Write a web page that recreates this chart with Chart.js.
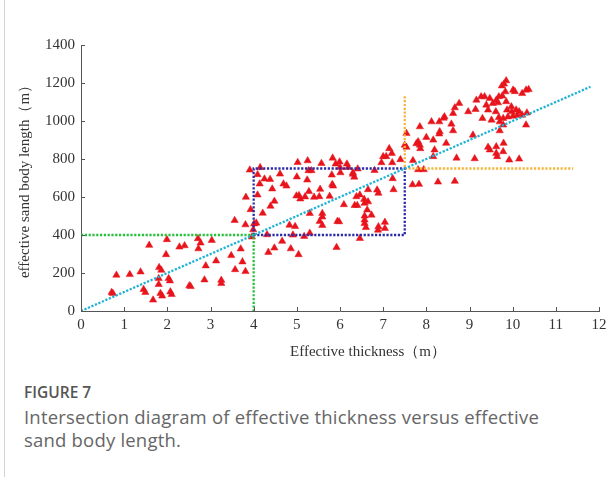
<!DOCTYPE html>
<html>
<head>
<meta charset="utf-8">
<script src="https://cdn.jsdelivr.net/npm/chart.js@4/dist/chart.umd.min.js"></script>
<style>
  html, body { margin: 0; padding: 0; background: #fff; }
  body { width: 612px; height: 477px; position: relative; overflow: hidden; }
  #frame { position: absolute; left: 4px; top: 0; width: 1px; height: 477px; background: #d4d4d4; }
  #plot { position: absolute; left: 0; top: 0; width: 612px; height: 345px; }
  #xtitle { position: absolute; left: 368px; top: 342px; transform: translateX(-50%);
            font: 15px "Liberation Serif", serif; color: #333; white-space: nowrap; }
  #fig { position: absolute; left: 24px; top: 381px; font: 600 15.5px "Open Sans", sans-serif; color: #555; }
  #cap { position: absolute; left: 24px; top: 405px; width: 525px; font: 18.5px "Open Sans", sans-serif;
         letter-spacing: 0.2px; color: #666; line-height: 23px; }
</style>
</head>
<body>
<div id="frame"></div>
<div id="plot"><canvas id="c" width="612" height="345"></canvas></div>
<div id="xtitle">Effective thickness（m）</div>
<div id="fig">FIGURE 7</div>
<div id="cap">Intersection diagram of effective thickness versus effective sand body length.</div>
<script>
// Measured wells: effective thickness (m) and effective sand body length (m)
const thickness = [
  0.71,0.74,0.82,1.13,1.38,1.45,1.49,1.58,1.67,1.81,1.86,1.80,1.80,1.84,1.88,1.99,1.97,2.03,2.06,2.07,
  2.10,2.28,2.40,2.51,2.54,2.71,2.77,2.72,2.86,2.89,3.03,3.13,3.25,3.25,3.48,3.56,3.57,3.70,3.74,3.81,
  3.81,3.82,3.91,3.93,3.96,3.99,4.01,4.06,4.09,4.09,4.15,4.14,4.21,4.25,4.31,4.34,4.39,4.43,4.48,4.48,
  4.38,4.61,4.66,4.69,4.76,4.83,4.86,4.91,4.96,4.99,5.00,5.02,5.04,5.05,5.08,5.19,5.17,5.25,5.27,5.30,
  5.30,5.34,5.24,5.28,5.40,
  9.85,9.80,9.75,10.01,10.05,10.22,10.31,10.37,9.83,9.68,9.76,9.62,9.47,9.54,9.27,9.35,9.16,8.97,9.14,9.39,
  9.43,9.61,9.66,9.85,9.87,9.97,9.98,10.08,10.15,10.22,10.33,10.11,10.01,9.89,9.78,9.68,9.51,9.30,9.70,9.78,
  9.70,10.31,9.08,9.43,9.47,9.62,9.79,9.62,9.64,9.78,9.92,10.15,9.12,8.70,8.66,8.76,8.62,8.42,8.40,8.30,
  8.12,8.58,8.31,8.30,8.62,8.46,8.16,8.19,8.00,7.85,7.81,7.85,7.86,7.77,8.16,7.54,7.50,7.54,7.69,7.81,
  7.94,7.68,7.83,8.27,8.66,7.14,7.20,7.00,7.07,7.40,7.22,7.24,6.86,6.89,6.65,6.73,6.57,6.57,6.60,7.04,
  6.89,6.46,5.92,6.34,6.40,6.56,6.09,5.94,5.98,5.59,5.59,5.52,5.76,5.84,5.82,5.81,5.83,6.01,6.19,6.00,
  6.30,6.30,6.41,6.80,5.57,5.53,5.59,5.54,
  5.90,6.16,5.99,6.96,7.21,6.33,6.65,6.57,6.63,6.38,6.46,6.57,7.04,6.88
];
const sandLength = [
  98,92,189,192,206,114,98,346,58,229,215,171,140,93,79,376,297,171,159,101,
  87,337,344,133,129,381,358,328,164,238,372,264,162,145,292,477,218,327,259,208,
  454,599,742,534,390,428,459,463,718,611,755,669,515,695,402,309,552,643,578,332,
  693,721,367,669,658,452,328,400,445,606,706,782,297,608,590,601,393,791,739,514,
  410,739,690,629,599,
  1212,1195,1185,1163,1155,1145,1163,1166,1154,1128,1132,1110,1119,1093,1128,1128,1110,1049,1061,1084,
  1058,1049,1096,1102,1058,1075,1049,1058,1049,1031,1043,1031,1026,1022,1014,1019,1005,1014,996,979,
  949,979,926,862,848,865,883,830,813,839,795,800,802,805,1070,1093,1040,1022,1015,996,
  996,984,944,932,949,883,900,848,914,970,891,873,855,881,813,935,873,862,792,744,
  744,665,667,679,683,855,830,813,813,797,697,639,637,620,639,505,500,461,440,467,
  444,382,335,556,556,588,560,472,470,495,514,602,604,658,666,716,805,728,756,756,
  728,720,748,740,777,472,451,641,
  774,774,785,781,781,705,575,567,532,602,611,479,435,426
];

// Reference guides
const trendX = [0, 11.8],         trendY = [0, 1180];
const greenX = [0, 4, 4],         greenY = [400, 400, 0];
const boxX = [4, 4, 7.5, 7.5, 4], boxY = [400, 750, 750, 400, 400];
const orangeX = [7.5, 7.5, 11.4], orangeY = [1130, 750, 750];

// Axis ticks
const xTicks = [0,1,2,3,4,5,6,7,8,9,10,11,12];
const yTicks = [0,200,400,600,800,1000,1200,1400];

const pts = (xs, ys) => xs.map((x, i) => ({ x, y: ys[i] }));

const guide = (xs, ys, color) => ({
  type: 'line', data: pts(xs, ys), borderColor: color, borderWidth: 2.3,
  borderDash: [2.2, 1.6], pointRadius: 0, fill: false, tension: 0, order: 0
});

// Tick marks drawn inside the axes
const innerTicks = {
  id: 'innerTicks',
  afterDraw(chart) {
    const { ctx, scales: { x, y } } = chart;
    ctx.save();
    ctx.strokeStyle = '#555';
    ctx.lineWidth = 1;
    xTicks.forEach(v => {
      const px = Math.round(x.getPixelForValue(v)) + 0.5;
      ctx.beginPath(); ctx.moveTo(px, y.bottom); ctx.lineTo(px, y.bottom - 4); ctx.stroke();
    });
    yTicks.forEach(v => {
      const py = Math.round(y.getPixelForValue(v)) + 0.5;
      ctx.beginPath(); ctx.moveTo(x.left, py); ctx.lineTo(x.left + 4, py); ctx.stroke();
    });
    ctx.restore();
  }
};

const serif = { family: '"Liberation Serif", "Times New Roman", serif', size: 15 };

new Chart(document.getElementById('c'), {
  type: 'scatter',
  data: {
    datasets: [
      guide(trendX, trendY, '#1fb2d6'),
      guide(greenX, greenY, '#27c13c'),
      guide(boxX, boxY, '#2b2ba8'),
      guide(orangeX, orangeY, '#f4b63a'),
      {
        data: pts(thickness, sandLength),
        pointStyle: 'triangle', pointRadius: 4.2, pointHoverRadius: 4.2,
        backgroundColor: '#e8141c', borderColor: '#e8141c', borderWidth: 0.5, order: 1
      }
    ]
  },
  options: {
    responsive: false,
    animation: false,
    events: [],
    layout: { padding: { left: 0, top: 45, right: 13, bottom: 0 } },
    plugins: { legend: { display: false }, tooltip: { enabled: false } },
    scales: {
      x: {
        type: 'linear', min: 0, max: 12,
        afterBuildTicks: s => { s.ticks = xTicks.map(v => ({ value: v })); },
        afterFit: s => { s.height = 34; },
        grid: { display: true, drawOnChartArea: false, drawTicks: false },
        border: { color: '#555', width: 1 },
        ticks: { font: serif, color: '#333', padding: 5, maxRotation: 0, autoSkip: false,
                 callback: v => String(v) }
      },
      y: {
        type: 'linear', min: 0, max: 1400,
        afterBuildTicks: s => { s.ticks = yTicks.map(v => ({ value: v })); },
        afterFit: s => { s.width = 81; },
        grid: { display: true, drawOnChartArea: false, drawTicks: false },
        border: { color: '#555', width: 1 },
        ticks: { font: serif, color: '#333', padding: 6, autoSkip: false,
                 callback: v => String(v) },
        title: {
          display: true, text: 'effective sand body length（m）',
          font: { family: '"Liberation Serif", "Times New Roman", serif', size: 15 },
          color: '#333', padding: { top: 16, bottom: 0 }
        }
      }
    }
  },
  plugins: [innerTicks]
});
</script>
</body>
</html>
